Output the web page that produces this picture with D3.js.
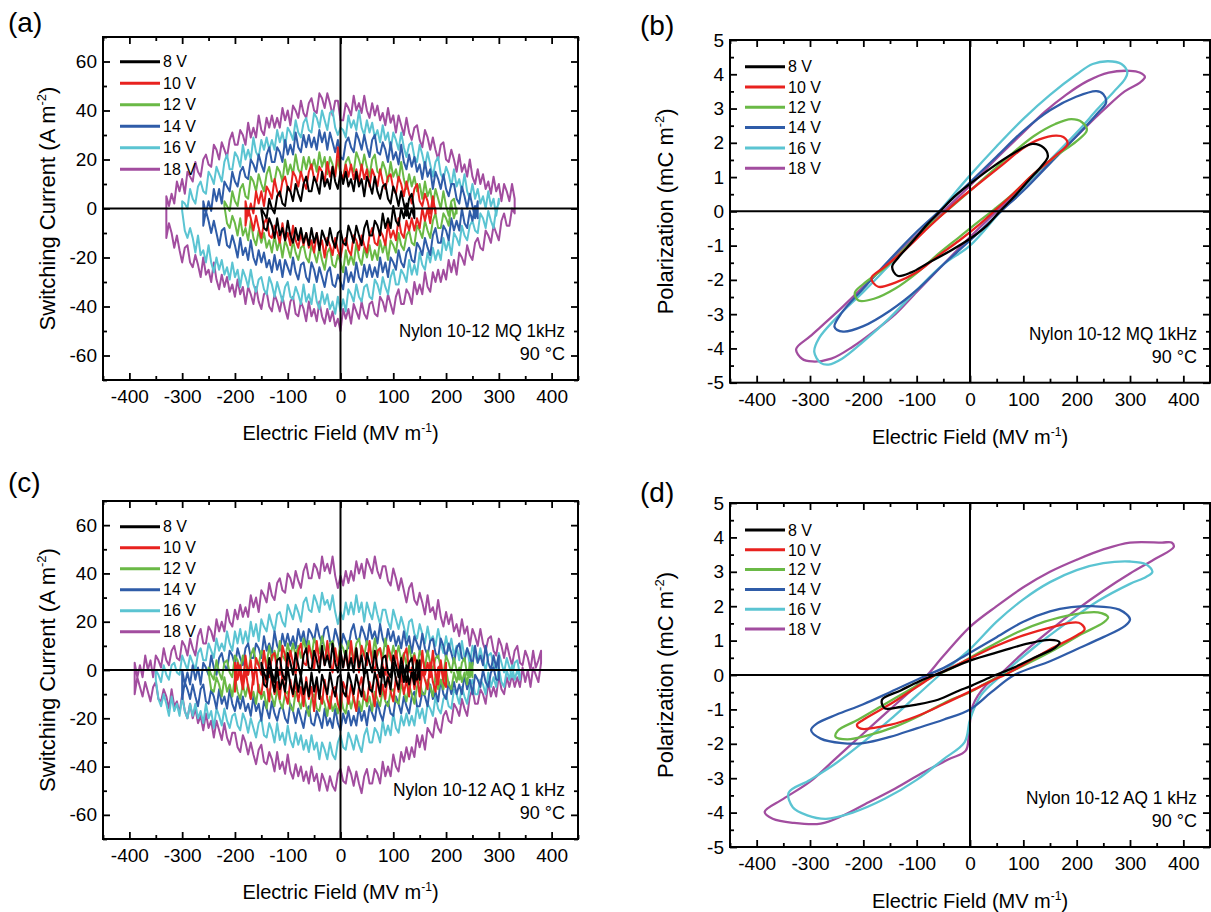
<!DOCTYPE html>
<html><head><meta charset="utf-8">
<script src="https://cdn.jsdelivr.net/npm/d3@7"></script>
<style>
body{margin:0;background:#fff}
svg{display:block}
text{font-family:"Liberation Sans",Arial,Helvetica,sans-serif;fill:#000}
</style>
</head><body>
<svg id="chart" width="1211" height="912"></svg>
<script>
// ---------------- DATA ----------------
const voltages = ["8 V","10 V","12 V","14 V","16 V","18 V"];
const colors = ["#000000","#e8221f","#6ab946","#2f5ca8","#5bc4d2","#a24d9f"];
const fieldTicks = [-400,-300,-200,-100,0,100,200,300,400];
const fieldMinor = [-450,-350,-250,-150,-50,50,150,250,350,450];
const currentTicks = [-60,-40,-20,0,20,40,60];
const currentMinor = [-70,-50,-30,-10,10,30,50,70];
const polTicks = [-5,-4,-3,-2,-1,0,1,2,3,4,5];
const polMinor = [-4.5,-3.5,-2.5,-1.5,-0.5,0.5,1.5,2.5,3.5,4.5];

// (a) Nylon 10-12 MQ switching current, sampled evenly over each field range (MV/m); values in A m^-2
const currentMQRange = [[-150,140],[-180,180],[-220,220],[-260,260],[-300,300],[-330,330]];
const currentMQUp = [
 [0,-2,-4,4,0,-2,5,7,2,1,9,7,3,10,6,3,10,13,7,7,13,10,6,15,9,12,8,17,11,8,15,10,15,9,12,7,15,9,12,5,13,10,6,13,7,4,9,10,4,2,9,6,1,7,2,-3,4,6,-1],
 [3,-3,2,-2,7,2,7,1,9,7,4,12,7,5,11,13,8,7,15,13,9,15,11,8,15,18,12,11,17,15,11,19,13,17,13,25,15,12,18,13,18,12,16,11,18,12,16,9,16,13,9,16,11,8,13,14,8,6,13,10,5,11,6,2,8,10,3,1,6,3,-2,5,-2],
 [3,1,-1,7,3,1,8,10,5,4,13,11,7,14,10,7,14,17,11,11,17,15,11,20,14,18,14,22,16,14,21,16,21,16,20,15,23,17,21,14,21,18,14,20,14,12,19,21,17,15,23,20,16,22,17,13,20,22,15,14,19,16,11,19,13,16,11,19,12,8,14,9,13,7,10,4,11,5,8,1,8,4,0,7,1,-3,3,4,-2],
 [3,-2,3,-1,8,3,8,2,11,9,7,15,11,9,15,17,13,12,20,18,15,22,18,15,22,25,19,19,25,23,19,28,22,26,22,31,25,23,30,25,30,25,29,24,32,27,31,24,31,27,23,28,21,20,27,29,25,23,31,28,24,30,25,21,28,30,23,22,27,24,19,27,20,23,18,26,19,16,22,17,21,15,18,12,19,13,16,8,15,12,8,14,8,5,10,10,4,2,9,5,0,6,1,-4,3],
 [3,2,0,8,4,2,9,11,7,6,15,13,10,17,14,11,19,22,16,16,23,21,17,26,20,24,20,29,23,21,28,24,29,24,28,24,32,27,31,25,33,31,28,36,31,29,35,37,32,31,39,37,33,40,36,32,39,40,33,30,33,32,29,38,33,36,32,40,33,30,36,31,35,29,32,27,34,28,31,24,31,28,24,31,25,21,26,27,21,19,26,22,17,23,18,13,19,21,14,12,17,14,9,16,9,12,7,14,7,4,10,4,8,2,5,0,7,1,4,-3,4],
 [5,1,6,2,11,7,12,6,15,13,11,19,15,13,20,22,18,17,26,24,20,27,24,21,28,31,26,26,32,30,26,35,29,33,29,38,32,30,37,33,38,33,37,33,41,36,40,34,42,40,37,44,39,37,43,45,40,39,47,45,41,47,43,38,44,44,36,36,43,41,38,46,40,43,39,46,40,37,43,38,42,36,39,34,41,35,38,31,38,34,30,37,31,28,33,34,28,25,32,29,24,29,24,20,26,27,20,19,24,20,15,22,15,18,13,20,13,10,16,10,14,8,11,6,13,7,10,3,10,7,3,10,4]
];
const currentMQDown = [
 [-1,-8,-9,-4,-7,-12,-4,-11,-8,-13,-5,-11,-14,-8,-13,-8,-14,-10,-15,-8,-14,-10,-17,-9,-12,-15,-8,-13,-16,-10,-9,-14,-15,-7,-10,-14,-7,-11,-15,-8,-5,-11,-11,-5,-7,-11,-2,-8,-4,-8,1,-5,-7,0,-4,2,-4,0,-4],
 [-7,0,-4,-9,-3,-8,-12,-6,-4,-11,-12,-7,-10,-14,-6,-13,-10,-15,-7,-13,-16,-10,-15,-10,-16,-13,-18,-10,-16,-13,-20,-12,-15,-19,-12,-17,-20,-14,-12,-17,-19,-11,-13,-17,-11,-15,-18,-11,-8,-14,-15,-9,-11,-15,-6,-12,-9,-13,-4,-10,-12,-5,-9,-4,-9,-4,-8,0,-5,0,-6,2,0],
 [1,-6,-8,-3,-6,-11,-4,-11,-8,-13,-5,-12,-15,-9,-14,-10,-16,-13,-18,-11,-17,-13,-20,-13,-16,-20,-13,-18,-21,-16,-15,-20,-22,-15,-18,-22,-16,-21,-25,-18,-16,-23,-24,-19,-22,-26,-17,-23,-19,-23,-14,-20,-23,-16,-20,-15,-21,-17,-21,-13,-18,-14,-21,-13,-15,-18,-10,-15,-17,-11,-9,-14,-15,-7,-9,-12,-5,-9,-12,-5,-2,-8,-8,-2,-4,-7,2,-4,0],
 [-7,-1,-5,-10,-5,-10,-15,-9,-8,-15,-16,-11,-15,-20,-12,-19,-16,-21,-13,-20,-23,-17,-22,-18,-24,-21,-26,-19,-25,-21,-28,-21,-24,-27,-20,-26,-29,-23,-22,-28,-30,-22,-25,-30,-24,-28,-32,-26,-24,-31,-32,-27,-30,-33,-24,-30,-26,-30,-22,-28,-30,-23,-28,-23,-28,-24,-28,-20,-26,-22,-28,-20,-22,-25,-17,-22,-24,-18,-16,-21,-22,-14,-16,-19,-12,-16,-19,-11,-8,-14,-14,-7,-9,-13,-4,-9,-5,-9,0,-6,-8,-1,-5,1,-4],
 [-1,-9,-12,-8,-12,-18,-11,-19,-17,-22,-15,-22,-26,-20,-25,-21,-27,-24,-29,-22,-28,-25,-32,-25,-28,-32,-25,-31,-34,-29,-28,-33,-35,-28,-31,-36,-30,-34,-38,-32,-30,-36,-37,-32,-35,-39,-31,-38,-35,-39,-31,-38,-41,-34,-39,-35,-41,-38,-43,-36,-42,-37,-42,-33,-35,-38,-31,-36,-38,-32,-31,-36,-37,-29,-31,-35,-28,-32,-35,-28,-25,-31,-31,-25,-27,-30,-21,-27,-23,-27,-18,-23,-25,-18,-22,-16,-21,-17,-21,-12,-17,-13,-19,-10,-12,-15,-7,-11,-13,-7,-5,-9,-10,-2,-4,-8,-1,-5,-8,0,2],
 [-12,-6,-10,-16,-11,-17,-22,-16,-15,-22,-24,-19,-23,-28,-20,-27,-25,-30,-22,-29,-33,-27,-32,-28,-34,-31,-36,-29,-35,-32,-39,-32,-35,-39,-32,-38,-41,-35,-34,-40,-42,-35,-38,-42,-36,-41,-45,-38,-36,-43,-44,-38,-41,-46,-38,-44,-41,-46,-38,-44,-47,-41,-46,-42,-48,-45,-50,-41,-45,-41,-47,-39,-42,-45,-38,-43,-45,-39,-38,-43,-44,-36,-38,-42,-35,-39,-43,-36,-33,-39,-39,-33,-35,-39,-30,-35,-31,-35,-26,-32,-34,-26,-30,-25,-30,-25,-29,-21,-26,-21,-27,-18,-20,-23,-15,-19,-21,-14,-12,-16,-17,-9,-11,-14,-7,-10,-13,-5,-2,-7,-7,0,-2]
];

// (c) Nylon 10-12 AQ switching current
const currentAQRange = [[-150,150],[-200,200],[-250,250],[-300,300],[-350,340],[-390,380]];
const currentAQUp = [
 [3,-1,-4,5,-1,-5,4,5,-2,-4,7,3,-2,7,2,-3,6,9,1,0,8,4,-1,10,2,6,1,11,3,-1,8,1,8,0,5,-1,9,1,6,-3,7,3,-1,8,1,-3,5,6,-1,-3,6,2,-3,5,0,-5,3,5,-3,-4,4],
 [3,-4,2,-6,6,-2,4,-6,5,2,-2,8,0,-3,6,7,0,-2,10,6,0,8,3,-2,8,11,3,2,10,6,0,12,3,8,2,12,3,-1,9,2,8,1,7,0,12,3,9,-1,10,6,2,12,3,-1,8,9,2,-2,10,6,0,8,1,-4,6,9,0,-2,6,2,-4,8,-2,3,-3,8,-2,-6,4,-4,3],
 [1,-2,-4,4,-1,-4,3,4,-1,-3,6,4,0,6,2,-2,6,9,3,2,8,6,2,10,4,8,4,12,6,4,11,6,11,6,10,5,13,8,12,5,13,10,7,14,9,6,11,12,6,4,11,9,5,12,8,4,11,13,7,6,12,9,5,13,6,9,5,13,7,4,10,5,10,4,7,2,10,4,7,0,8,5,1,8,3,0,5,6,1,-2,6,3,-1,5,0,-4,3,5,-2,-3,3],
 [0,-6,-1,-6,2,-4,1,-6,3,1,-2,6,1,-2,5,7,2,0,8,6,2,9,5,2,9,11,5,5,11,9,5,14,8,11,7,16,10,8,15,10,15,10,14,9,17,12,16,9,17,15,12,19,14,11,17,18,12,10,17,13,8,15,12,9,16,19,13,12,18,15,11,19,13,16,11,19,13,10,17,12,16,10,14,9,16,10,14,7,14,11,8,15,9,6,12,13,7,5,13,10,5,11,7,3,9,11,5,4,9,6,2,10,3,6,2,10,3,0,6,1,6],
 [0,-2,-5,2,-2,-4,2,3,-1,-2,6,3,0,6,3,0,7,9,4,4,11,8,5,13,8,11,8,16,11,8,16,11,17,11,16,11,20,14,19,12,21,18,16,23,19,16,23,24,20,18,27,24,21,27,24,20,28,30,25,24,31,28,24,32,27,29,25,31,24,19,24,21,28,23,28,23,31,24,28,20,28,24,21,28,23,19,25,25,20,17,25,21,17,22,18,13,20,21,15,13,19,15,11,18,12,14,10,17,11,7,14,8,13,6,10,4,12,5,9,2,10,6,3,9,4,0,6,7,2,0,7,3,-1,5,1,-3,3,4,-2],
 [3,-3,2,-3,6,0,4,-3,6,4,1,9,4,2,8,10,5,4,12,10,6,13,9,6,14,17,11,11,18,16,12,21,16,20,16,25,20,18,25,21,27,22,26,22,31,26,30,24,33,31,28,36,31,29,36,38,33,32,40,38,34,41,37,34,41,44,38,38,44,42,38,47,41,44,40,47,39,34,39,35,41,36,41,37,45,40,44,38,46,43,40,47,41,38,43,43,37,35,42,38,33,38,33,28,34,36,29,27,32,28,23,31,24,26,21,29,22,18,24,19,23,16,19,14,21,15,18,10,17,14,10,17,11,8,13,14,8,6,13,10,5,11,6,2,8,10,3,2,8,5,0,8,1,4,8]
];
const currentAQDown = [
 [2,-6,-7,1,-4,-9,1,-8,-4,-9,1,-6,-10,-2,-9,-2,-10,-5,-11,-1,-9,-3,-12,-2,-6,-10,-1,-7,-11,-3,-2,-9,-11,-1,-5,-10,-2,-7,-11,-2,0,-8,-9,-1,-5,-10,1,-7,-3,-8,3,-4,-8,2,-5,2,-6,-1,-6,4,-4],
 [-9,3,-2,-8,0,-7,-12,-2,1,-9,-10,-2,-6,-13,-1,-10,-5,-12,-1,-10,-14,-4,-11,-5,-13,-7,-15,-3,-12,-7,-17,-6,-10,-14,-4,-12,-16,-8,-7,-14,-17,-5,-8,-14,-6,-12,-17,-7,-3,-12,-13,-5,-9,-15,-2,-11,-6,-12,0,-9,-13,-3,-9,-2,-10,-4,-11,1,-8,-2,-11,0,-4,-8,3,-5,-9,1,2,-5,-7],
 [-1,-8,-9,-3,-6,-11,-3,-9,-6,-11,-3,-9,-12,-6,-11,-6,-12,-9,-14,-6,-12,-9,-16,-8,-11,-15,-8,-13,-16,-10,-9,-15,-17,-9,-12,-16,-10,-15,-19,-12,-10,-16,-17,-11,-14,-19,-11,-17,-14,-18,-10,-16,-18,-11,-16,-11,-17,-13,-17,-9,-15,-11,-17,-9,-12,-15,-8,-13,-15,-9,-8,-13,-14,-6,-9,-13,-6,-10,-14,-7,-4,-10,-10,-4,-7,-11,-2,-8,-4,-8,0,-6,-8,-1,-5,1,-5,-1,-6,3,-3],
 [-12,-5,-8,-12,-6,-11,-15,-8,-6,-13,-14,-8,-11,-16,-8,-14,-11,-16,-8,-14,-17,-11,-16,-11,-17,-14,-19,-11,-17,-14,-21,-13,-16,-20,-13,-18,-21,-16,-15,-20,-22,-14,-17,-22,-16,-20,-24,-17,-15,-22,-23,-17,-20,-24,-16,-23,-20,-24,-16,-22,-25,-18,-22,-17,-23,-19,-23,-15,-21,-17,-23,-15,-18,-21,-13,-18,-21,-15,-13,-18,-19,-11,-14,-18,-11,-15,-18,-11,-9,-15,-15,-9,-11,-15,-6,-12,-9,-13,-4,-10,-12,-5,-10,-5,-10,-6,-10,-2,-8,-4,-10,-2,-4,-7,0,-5,-7,-1,1,-4,-4],
 [-4,-12,-15,-10,-14,-19,-11,-17,-14,-19,-11,-17,-20,-14,-19,-14,-20,-17,-22,-14,-20,-17,-24,-16,-19,-23,-16,-21,-24,-19,-18,-23,-25,-18,-21,-26,-20,-24,-28,-22,-20,-27,-28,-22,-25,-30,-22,-29,-26,-31,-23,-29,-32,-26,-31,-27,-33,-29,-34,-27,-33,-30,-37,-30,-33,-37,-30,-35,-37,-30,-27,-32,-33,-26,-29,-33,-27,-31,-34,-27,-24,-30,-30,-24,-26,-30,-21,-27,-23,-27,-18,-24,-26,-19,-23,-18,-23,-19,-23,-15,-20,-16,-22,-14,-16,-19,-11,-16,-18,-12,-10,-15,-16,-8,-10,-14,-7,-11,-14,-7,-4,-10,-10,-4,-6,-10,-1,-7,-3,-7,1,-5,-7,0,-4,2,-4,0,-4],
 [-10,-3,-7,-11,-5,-9,-13,-7,-5,-12,-13,-8,-11,-16,-8,-15,-13,-18,-10,-17,-20,-14,-20,-16,-22,-19,-25,-18,-24,-21,-28,-21,-25,-29,-22,-28,-31,-26,-26,-32,-34,-27,-30,-35,-30,-35,-39,-33,-31,-38,-39,-34,-37,-42,-34,-41,-38,-43,-35,-42,-45,-39,-44,-40,-46,-42,-47,-40,-46,-43,-50,-43,-46,-50,-44,-48,-50,-43,-41,-46,-47,-40,-43,-48,-42,-47,-51,-44,-41,-47,-47,-41,-43,-47,-38,-44,-40,-44,-35,-40,-42,-34,-38,-32,-37,-32,-36,-27,-32,-27,-33,-24,-26,-28,-20,-24,-26,-19,-17,-21,-22,-14,-16,-19,-12,-16,-19,-11,-8,-14,-14,-8,-10,-14,-5,-11,-7,-11,-2,-8,-10,-3,-7,-2,-7,-3,-7,1,-5,0,-7,1,-2,-5,3]
];

// (b) Nylon 10-12 MQ polarization loops: [field MV/m, polarization mC/m^2]
const polMQ = [
 [[117,1.97],[80,1.68],[40,1.27],[0,0.8],[-30,0.42],[-56,0],[-80,-0.38],[-110,-0.92],[-135,-1.36],[-146,-1.62],[-136,-1.88],[-110,-1.78],[-80,-1.52],[-40,-1.18],[0,-0.8],[30,-0.44],[56,0],[80,0.38],[110,0.9],[135,1.34],[146,1.6],[138,1.86]],
 [[161,2.21],[130,2.1],[100,1.85],[60,1.35],[20,0.85],[-20,0.35],[-45,0],[-80,-0.5],[-120,-1.1],[-160,-1.62],[-185,-1.95],[-172,-2.2],[-140,-2.08],[-100,-1.78],[-60,-1.3],[-20,-0.85],[20,-0.35],[45,0],[80,0.5],[120,1.1],[160,1.62],[183,1.97],[175,2.17]],
 [[190,2.69],[160,2.55],[120,2.2],[80,1.7],[40,1.15],[0,0.6],[-45,0],[-80,-0.45],[-120,-1.05],[-160,-1.65],[-200,-2.12],[-216,-2.38],[-209,-2.6],[-180,-2.55],[-140,-2.25],[-100,-1.8],[-60,-1.25],[-20,-0.75],[20,-0.25],[45,0.05],[80,0.5],[120,1.1],[160,1.6],[200,2.05],[219,2.36],[210,2.6]],
 [[237,3.51],[200,3.35],[150,2.95],[100,2.35],[50,1.6],[0,0.85],[-58,0],[-100,-0.6],[-150,-1.4],[-200,-2.25],[-240,-2.95],[-254,-3.37],[-238,-3.51],[-200,-3.35],[-150,-2.9],[-100,-2.3],[-50,-1.55],[0,-0.85],[58,0],[100,0.6],[150,1.4],[200,2.2],[240,2.88],[255,3.17],[250,3.42]],
 [[259,4.38],[230,4.3],[200,4.0],[150,3.4],[100,2.7],[50,1.9],[0,1.05],[-55,0.05],[-100,-0.75],[-150,-1.55],[-200,-2.35],[-250,-3.1],[-283,-3.7],[-292,-4.1],[-280,-4.42],[-265,-4.47],[-240,-4.3],[-200,-3.8],[-150,-3.1],[-100,-2.3],[-50,-1.55],[0,-1.0],[55,-0.05],[100,0.7],[150,1.5],[200,2.3],[240,3.0],[270,3.5],[290,3.85],[295,4.05],[284,4.3]],
 [[300,4.1],[260,4.05],[220,3.8],[180,3.4],[140,2.9],[100,2.3],[50,1.55],[0,0.75],[-50,0],[-100,-0.7],[-150,-1.45],[-200,-2.2],[-250,-2.95],[-300,-3.65],[-326,-4.02],[-315,-4.3],[-296,-4.38],[-260,-4.3],[-220,-3.95],[-180,-3.5],[-140,-3.0],[-100,-2.35],[-50,-1.55],[0,-0.75],[50,0],[100,0.7],[150,1.45],[200,2.2],[250,2.95],[290,3.5],[318,3.75],[328,3.92],[318,4.05]]
];

// (d) Nylon 10-12 AQ polarization loops
const polAQ = [
 [[150,1.02],[110,0.92],[60,0.7],[0,0.42],[-50,0.1],[-95,-0.18],[-130,-0.45],[-165,-0.72],[-160,-0.97],[-130,-0.93],[-100,-0.86],[-60,-0.72],[-20,-0.45],[0,-0.33],[40,-0.05],[80,0.2],[120,0.5],[160,0.8],[168,0.95]],
 [[204,1.52],[150,1.38],[100,1.15],[50,0.85],[0,0.48],[-50,0.1],[-65,0],[-100,-0.35],[-150,-0.85],[-200,-1.3],[-212,-1.45],[-205,-1.56],[-150,-1.45],[-100,-1.2],[-50,-0.85],[0,-0.48],[50,-0.1],[65,0],[100,0.3],[150,0.75],[200,1.15],[215,1.33]],
 [[240,1.82],[190,1.75],[140,1.55],[90,1.25],[40,0.85],[0,0.5],[-40,0.15],[-70,-0.05],[-110,-0.4],[-160,-0.85],[-210,-1.3],[-248,-1.62],[-252,-1.8],[-230,-1.87],[-190,-1.75],[-140,-1.5],[-90,-1.15],[-40,-0.75],[0,-0.5],[40,-0.15],[70,0.05],[110,0.35],[160,0.75],[210,1.2],[250,1.52],[259,1.68]],
 [[280,1.9],[230,2.0],[190,1.97],[150,1.85],[100,1.55],[50,1.1],[0,0.65],[-50,0.2],[-80,0],[-150,-0.5],[-200,-0.85],[-250,-1.15],[-288,-1.42],[-298,-1.6],[-280,-1.85],[-240,-1.98],[-200,-1.98],[-150,-1.8],[-100,-1.55],[-50,-1.3],[0,-1.0],[40,-0.5],[83,0],[150,0.4],[200,0.75],[250,1.1],[290,1.42],[300,1.62]],
 [[300,3.3],[250,3.25],[200,3.05],[150,2.7],[100,2.2],[50,1.55],[0,0.75],[-57,0],[-100,-0.6],[-150,-1.3],[-200,-1.95],[-250,-2.55],[-300,-3.05],[-340,-3.42],[-332,-3.85],[-305,-4.08],[-270,-4.18],[-220,-4.0],[-160,-3.6],[-100,-3.05],[-50,-2.45],[-10,-1.95],[0,-1.3],[20,-0.6],[60,0],[120,0.8],[180,1.5],[240,2.15],[300,2.65],[330,2.85],[342,3.0],[330,3.22]],
 [[360,3.85],[300,3.85],[250,3.65],[200,3.35],[150,3.0],[100,2.55],[50,2.0],[0,1.4],[-50,0.55],[-80,0],[-100,-0.3],[-150,-1.0],[-200,-1.7],[-250,-2.4],[-300,-3.1],[-350,-3.6],[-385,-3.98],[-370,-4.18],[-330,-4.3],[-280,-4.32],[-240,-4.1],[-190,-3.7],[-140,-3.3],[-90,-2.85],[-40,-2.45],[-8,-2.2],[-2,-1.7],[5,-0.9],[30,-0.3],[55,0],[100,0.65],[150,1.3],[200,1.9],[250,2.45],[300,2.95],[350,3.4],[382,3.72],[378,3.85]]
];

// ---------------- RENDER ----------------
const svg = d3.select("#chart");
const FONT = '"Liberation Sans",Arial,Helvetica,sans-serif';

const panels = [
 {id:"a", x0:103, x1:578, y0:37, y1:380, yd:[-70,70], yt:currentTicks, ym:currentMinor, kind:"current",
  range:currentMQRange, up:currentMQUp, dn:currentMQDown, ytitle:["Switching Current (A m","-2",")"],
  note:"Nylon 10-12 MQ 1kHz", noteLen:166, label:"(a)", lx:8, ly:32, legY:61.7, legDy:21.5, legX:120, tx:433, ytx:55},
 {id:"b", x0:730, x1:1210, y0:40, y1:382.7, yd:[-5,5], yt:polTicks, ym:polMinor, kind:"pol",
  loops:polMQ, ytitle:["Polarization (mC m","-2",")"],
  note:"Nylon 10-12 MQ 1kHz", noteLen:168, label:"(b)", lx:640, ly:35, legY:66.7, legDy:20.3, legX:745, tx:437, ytx:673},
 {id:"c", x0:103, x1:578, y0:501, y1:839, yd:[-70,70], yt:currentTicks, ym:currentMinor, kind:"current",
  range:currentAQRange, up:currentAQUp, dn:currentAQDown, ytitle:["Switching Current (A m","-2",")"],
  note:"Nylon 10-12 AQ 1 kHz", noteLen:172, label:"(c)", lx:8, ly:492, legY:526.7, legDy:21, legX:120, tx:892, ytx:55},
 {id:"d", x0:730, x1:1210, y0:503, y1:847, yd:[-5,5], yt:polTicks, ym:polMinor, kind:"pol",
  loops:polAQ, ytitle:["Polarization (mC m","-2",")"],
  note:"Nylon 10-12 AQ 1 kHz", noteLen:171, label:"(d)", lx:640, ly:502, legY:530, legDy:19.8, legX:745, tx:901, ytx:673}
];

const fmt = d => String(d);

panels.forEach(p => {
  const x = d3.scaleLinear().domain([-450,450]).range([p.x0,p.x1]);
  const y = d3.scaleLinear().domain(p.yd).range([p.y1,p.y0]);
  const g = svg.append("g");

  g.append("clipPath").attr("id","clip-"+p.id)
    .append("rect").attr("x",p.x0).attr("y",p.y0).attr("width",p.x1-p.x0).attr("height",p.y1-p.y0);
  const plot = g.append("g").attr("clip-path",`url(#clip-${p.id})`);

  const line = d3.line().x(d=>x(d[0])).y(d=>y(d[1]));
  const order = [5,4,3,2,1,0];
  if (p.kind === "current") {
    const branch = (vals, r) => vals.map((v,k)=>[r[0] + k*(r[1]-r[0])/(vals.length-1), v]);
    order.forEach(i => {
      const pts = branch(p.up[i], p.range[i]).concat(branch(p.dn[i], p.range[i]).reverse());
      plot.append("path").attr("d", line(pts)+"Z")
        .attr("fill","none").attr("stroke",colors[i]).attr("stroke-width",2.0)
        .attr("stroke-linejoin","round");
    });
  } else {
    const loopLine = d3.line().x(d=>x(d[0])).y(d=>y(d[1])).curve(d3.curveCatmullRomClosed.alpha(0.5));
    order.forEach(i => {
      plot.append("path").attr("d", loopLine(p.loops[i]))
        .attr("fill","none").attr("stroke",colors[i]).attr("stroke-width",2.3);
    });
  }

  // zero lines
  g.append("line").attr("x1",p.x0).attr("x2",p.x1).attr("y1",y(0)).attr("y2",y(0)).attr("stroke","#000").attr("stroke-width",2);
  g.append("line").attr("x1",x(0)).attr("x2",x(0)).attr("y1",p.y0).attr("y2",p.y1).attr("stroke","#000").attr("stroke-width",2);

  // axes (inward ticks)
  const style = sel => {
    sel.select(".domain").remove();
    sel.selectAll(".tick line").attr("stroke","#000").attr("stroke-width",1.8);
    sel.selectAll("text").attr("font-size",19).attr("font-family",FONT).attr("fill","#000");
  };
  g.append("g").attr("transform",`translate(0,${p.y1})`)
    .call(d3.axisBottom(x).tickValues(fieldTicks).tickSize(-7).tickPadding(10).tickFormat(fmt)).call(style);
  g.append("g").attr("transform",`translate(0,${p.y1})`)
    .call(d3.axisBottom(x).tickValues(fieldMinor).tickSize(-4).tickFormat("")).call(style);
  g.append("g").attr("transform",`translate(0,${p.y0})`)
    .call(d3.axisTop(x).tickValues(fieldTicks).tickSize(-7).tickFormat("")).call(style);
  g.append("g").attr("transform",`translate(0,${p.y0})`)
    .call(d3.axisTop(x).tickValues(fieldMinor).tickSize(-4).tickFormat("")).call(style);
  g.append("g").attr("transform",`translate(${p.x0},0)`)
    .call(d3.axisLeft(y).tickValues(p.yt).tickSize(-7).tickPadding(6).tickFormat(fmt)).call(style);
  g.append("g").attr("transform",`translate(${p.x0},0)`)
    .call(d3.axisLeft(y).tickValues(p.ym).tickSize(-4).tickFormat("")).call(style);
  g.append("g").attr("transform",`translate(${p.x1},0)`)
    .call(d3.axisRight(y).tickValues(p.yt).tickSize(-7).tickFormat("")).call(style);
  g.append("g").attr("transform",`translate(${p.x1},0)`)
    .call(d3.axisRight(y).tickValues(p.ym).tickSize(-4).tickFormat("")).call(style);

  // frame
  g.append("rect").attr("x",p.x0).attr("y",p.y0).attr("width",p.x1-p.x0).attr("height",p.y1-p.y0)
    .attr("fill","none").attr("stroke","#000").attr("stroke-width",2);

  // legend
  voltages.forEach((v,i) => {
    const ly = p.legY + i*p.legDy;
    g.append("line").attr("x1",p.legX).attr("x2",p.legX+40).attr("y1",ly).attr("y2",ly)
      .attr("stroke",colors[i]).attr("stroke-width",3);
    g.append("text").attr("x",p.legX+43).attr("y",ly).attr("dy","0.36em")
      .attr("font-size",16).text(v);
  });

  // annotation
  g.append("text").attr("x",p.x1-13).attr("y",p.y1-43).attr("text-anchor","end")
    .attr("font-size",18).attr("textLength",p.noteLen).attr("lengthAdjust","spacingAndGlyphs").text(p.note);
  g.append("text").attr("x",p.x1-13).attr("y",p.y1-20).attr("text-anchor","end")
    .attr("font-size",18).text("90 °C");

  // x title
  const xt = g.append("text").attr("x",(p.x0+p.x1)/2).attr("y",p.tx+7).attr("text-anchor","middle").attr("font-size",20);
  xt.append("tspan").text("Electric Field (MV m");
  xt.append("tspan").attr("font-size",12).attr("dy",-8).text("-1");
  xt.append("tspan").attr("dy",8).text(")");

  // y title
  const yc = (p.y0+p.y1)/2;
  const yt = g.append("text").attr("transform",`translate(${p.ytx},${yc}) rotate(-90)`)
    .attr("text-anchor","middle").attr("font-size",22);
  yt.append("tspan").text(p.ytitle[0]);
  yt.append("tspan").attr("font-size",13).attr("dy",-9).text(p.ytitle[1]);
  yt.append("tspan").attr("dy",9).text(p.ytitle[2]);

  // panel label
  g.append("text").attr("x",p.lx).attr("y",p.ly).attr("font-size",28).text(p.label);
});
</script>
</body></html>
